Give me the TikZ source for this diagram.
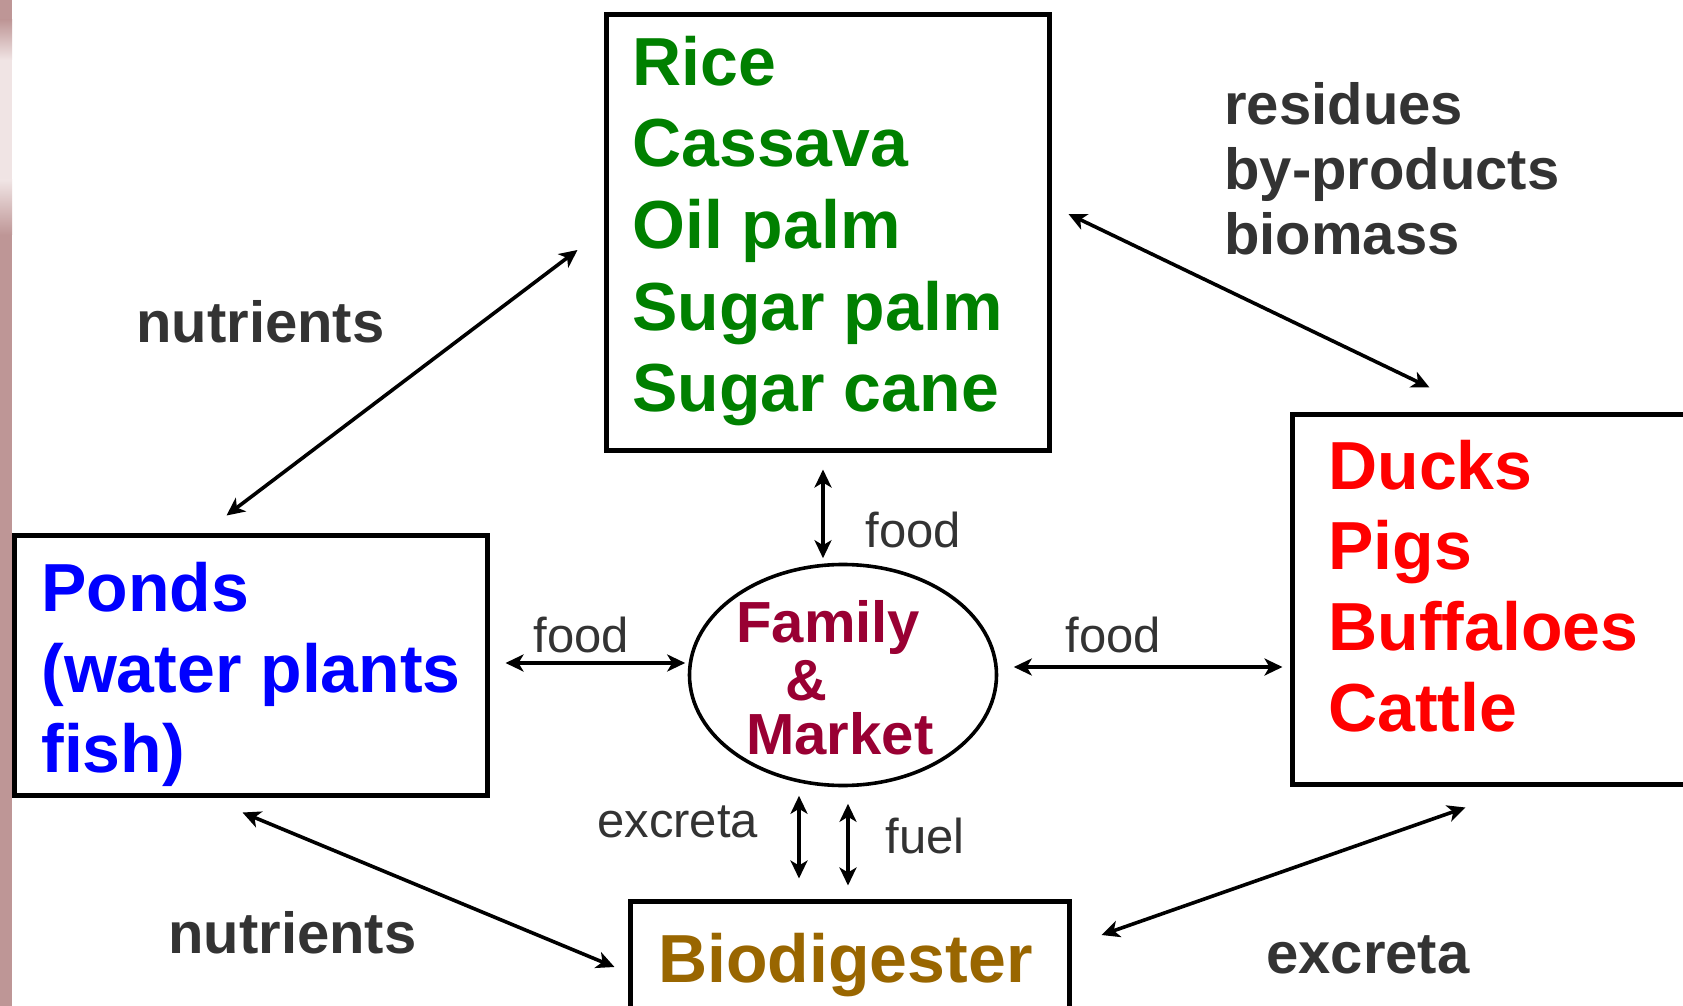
\documentclass[tikz,border=0pt]{standalone}
\usepackage{fontspec}
\setmainfont{Liberation Sans}
\usetikzlibrary{shapes.geometric,arrows.meta,calc}
\definecolor{cropgreen}{RGB}{0,128,0}
\definecolor{pondblue}{RGB}{0,0,255}
\definecolor{stockred}{RGB}{255,0,0}
\definecolor{familyred}{RGB}{153,0,51}
\definecolor{digestbrown}{RGB}{153,102,0}
\definecolor{labelgray}{RGB}{51,51,51}
\definecolor{stripbrown}{RGB}{190,150,150}
\definecolor{striplight}{RGB}{240,228,228}
\begin{document}
\begin{tikzpicture}[x=0.5pt,y=-0.5pt,
  box/.style={draw=black,line width=2.5pt,rectangle,inner sep=0pt,fill=white},
  bigtxt/.style={font=\bfseries\fontsize{34}{40}\selectfont,anchor=base west,inner sep=0pt},
  famtxt/.style={font=\bfseries\fontsize{29}{34}\selectfont,anchor=base west,inner sep=0pt,text=familyred},
  flowlabel/.style={font=\bfseries\fontsize{29}{34}\selectfont,anchor=base west,inner sep=0pt,text=labelgray},
  smalllabel/.style={font=\fontsize{24.5}{29}\selectfont,anchor=base west,inner sep=0pt,text=labelgray},
  dbl/.style={{Stealth[length=9pt,width=8.5pt,inset=2.5pt]}-{Stealth[length=9pt,width=8.5pt,inset=2.5pt]},line width=1.8pt,black},
  dblthick/.style={dbl,line width=2.2pt}]
\useasboundingbox (0,0) rectangle (1683,1006);
\clip (0,0) rectangle (1683,1006);
\fill[white] (0,0) rectangle (1683,1006);
% textured strip along the left edge
\fill[stripbrown] (0,0) rectangle (12,1006);
\shade[top color=stripbrown,bottom color=striplight] (0,20) rectangle (12,60);
\fill[striplight] (0,60) rectangle (12,180);
\shade[top color=striplight,bottom color=stripbrown] (0,180) rectangle (12,235);

% boxes
\node[box,minimum width=221.5pt,minimum height=217.5pt] (crops) at (827.5,232.5) {};
\node[box,minimum width=236.5pt,minimum height=130pt] (ponds) at (251,665.5) {};
\node[box,minimum width=203.75pt,minimum height=185pt] (stock) at (1496.25,599.5) {};
\node[box,minimum width=219.5pt,minimum height=64.25pt] (bio) at (850,965.75) {};
\node[draw=black,line width=1.8pt,ellipse,inner sep=0pt,fill=white,
      minimum width=153.5pt,minimum height=110.5pt] (fm) at (843,675) {};

% box texts
\node[bigtxt,text=cropgreen] (crop1) at (632,86) {Rice};
\node[bigtxt,text=cropgreen] (crop2) at (632,167) {Cassava};
\node[bigtxt,text=cropgreen] (crop3) at (632,249) {Oil palm};
\node[bigtxt,text=cropgreen] (crop4) at (632,330) {Sugar palm};
\node[bigtxt,text=cropgreen] (crop5) at (632,411) {Sugar cane};
\node[bigtxt,text=pondblue] (pond1) at (41,611) {Ponds};
\node[bigtxt,text=pondblue] (pond2) at (41,692) {(water plants};
\node[bigtxt,text=pondblue] (pond3) at (41,772) {fish)};
\node[bigtxt,text=stockred] (stock1) at (1328,489) {Ducks};
\node[bigtxt,text=stockred] (stock2) at (1328,569) {Pigs};
\node[bigtxt,text=stockred] (stock3) at (1328,650) {Buffaloes};
\node[bigtxt,text=stockred] (stock4) at (1328,731) {Cattle};
\node[bigtxt,text=digestbrown] (biotxt) at (658,982) {Biodigester};
\node[famtxt] (fam1) at (736,642) {Family};
\node[famtxt] (fam2) at (785,700) {\&};
\node[famtxt] (fam3) at (746,754) {Market};

% flow labels
\node[flowlabel] (lres1) at (1224,125) {residues};
\node[flowlabel] (lres2) at (1224,190) {by-products};
\node[flowlabel] (lres3) at (1224,255) {biomass};
\node[flowlabel] (lnut1) at (136,343) {nutrients};
\node[flowlabel] (lnut2) at (168,953) {nutrients};
\node[flowlabel] (lexc1) at (1266,973) {excreta};
\node[smalllabel] (lfood1) at (865,547) {food};
\node[smalllabel] (lfood2) at (533,652) {food};
\node[smalllabel] (lfood3) at (1065,652) {food};
\node[smalllabel] (lexc2) at (597,837) {excreta};
\node[smalllabel] (lfuel) at (885,853) {fuel};

% connectors
\draw[dbl] ($(ponds.north west)+(214.5,-17.5)$) -- ($(crops.west)+(-26,17.5)$);
\draw[dbl] ($(crops.east)+(17,-18.5)$) -- ($(stock.north west)+(139.5,-24.5)$);
\draw[dbl] ($(crops.south)+(-4.5,17)$) -- ($(fm.north)+(-20,-4.5)$);
\draw[dbl] ($(ponds.east)+(15.5,-2.5)$) -- ($(fm.west)+(-2.5,-12)$);
\draw[dbl] ($(fm.east)+(15.5,-8)$) -- ($(stock.west)+(-7.5,67.5)$);
\draw[dbl] ($(fm.south)+(-44,8.5)$) -- ($(bio.north)+(-51,-20.5)$);
\draw[dblthick] ($(fm.south)+(5,16.5)$) -- ($(bio.north)+(-2,-13.5)$);
\draw[dbl] ($(ponds.south west)+(230.5,14.5)$) -- ($(bio.west)+(-13.5,1.25)$);
\draw[dbl] ($(bio.east)+(29.5,-30.75)$) -- ($(stock.south west)+(175.5,20.5)$);
\end{tikzpicture}
\end{document}
